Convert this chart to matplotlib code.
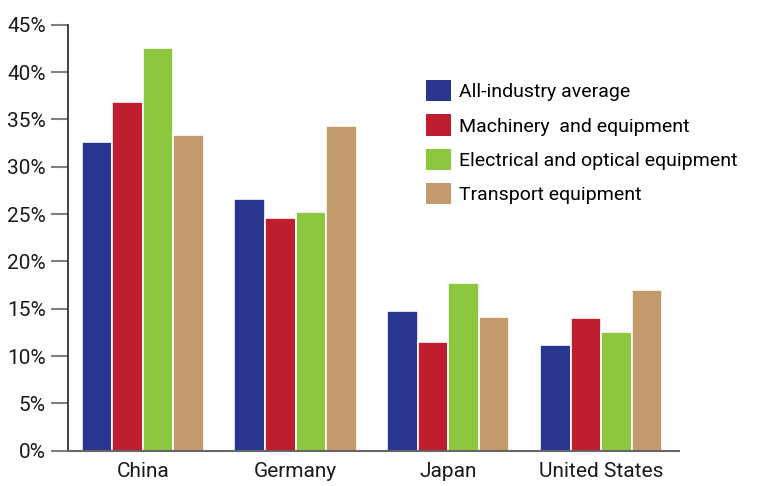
import matplotlib
matplotlib.use("Agg")
import matplotlib.pyplot as plt
import numpy as np
from matplotlib.patches import Patch

plt.rcParams['font.family'] = ['Roboto', 'DejaVu Sans']

countries = ["China", "Germany", "Japan", "United States"]
series_names = ["All-industry average", "Machinery  and equipment",
                "Electrical and optical equipment", "Transport equipment"]
all_industry = [32.6, 26.6, 14.8, 11.2]
machinery = [36.8, 24.6, 11.5, 14.0]
electrical = [42.5, 25.2, 17.7, 12.5]
transport = [33.4, 34.3, 14.1, 17.0]
yticks = [0, 5, 10, 15, 20, 25, 30, 35, 40, 45]
colors = ["#28368F", "#BE1E2D", "#8DC63F", "#C39A6B"]

fig = plt.figure(figsize=(7.59, 4.86), dpi=100)
ax = fig.add_axes([68/759, 1-450.7/486, (679-68)/759, (450.7-24.7)/486])

x = np.arange(len(countries))
w = 0.2
series = [all_industry, machinery, electrical, transport]
for i, (vals, c) in enumerate(zip(series, colors)):
    ax.bar(x + (i - 1.5) * w, vals, width=w, color=c, edgecolor="white", linewidth=1.2)

ax.set_xlim(-0.49, 3.51)
ax.set_ylim(0, 45)
ax.set_yticks(yticks)
ax.set_yticklabels([f"{v}%" for v in yticks], fontsize=15, color="#1a1a1a")
ax.set_xticks(x)
ax.set_xticklabels(countries, fontsize=15, color="#1a1a1a")
ax.tick_params(axis='x', length=0, pad=8)
ax.tick_params(axis='y', length=12, width=1.5, color="#808080", pad=4)
for s in ["top", "right"]:
    ax.spines[s].set_visible(False)
ax.spines["left"].set_color("#222222")
ax.spines["left"].set_linewidth(1.2)
ax.spines["bottom"].set_color("#666666")
ax.spines["bottom"].set_linewidth(1.5)

handles = [Patch(facecolor=c, edgecolor="none") for c in colors]
fig.legend(handles, series_names, loc="upper left", bbox_to_anchor=(426/759, 1-80/486),
           frameon=False, fontsize=14, handlelength=1.3, handleheight=1.3,
           labelspacing=0.68, handletextpad=0.42, borderpad=0, borderaxespad=0)

fig.savefig("out.png", dpi=100)
